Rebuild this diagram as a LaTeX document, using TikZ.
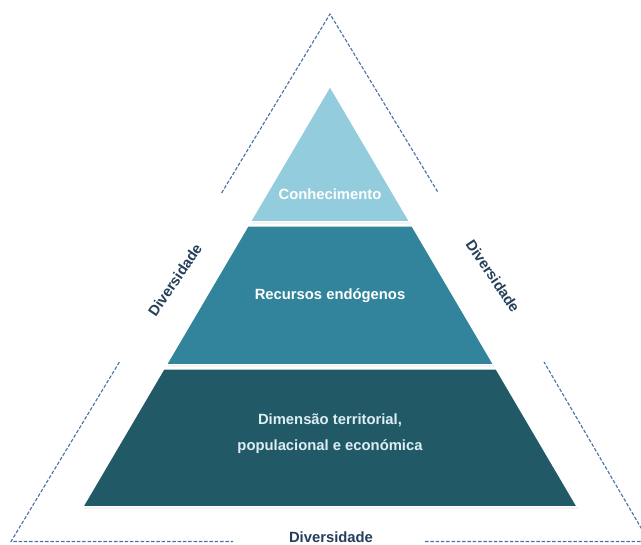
\documentclass[tikz,border=0pt]{standalone}
\usepackage{fontspec}
\setmainfont{Liberation Sans}
\usetikzlibrary{shadows}
\definecolor{tierA}{HTML}{93CDDD}
\definecolor{tierB}{HTML}{31849B}
\definecolor{tierC}{HTML}{215967}
\definecolor{dashcol}{HTML}{4A6EA8}
\definecolor{labcol}{HTML}{243F5A}
\definecolor{lighttxt}{HTML}{DCEEF3}
\tikzset{
  tier/.style={draw=white, line width=1.5pt, line join=miter,
    drop shadow={shadow xshift=1.2pt, shadow yshift=-1.5pt, fill=black!35, opacity=0.35}},
  outline/.style={draw=dashcol, line width=1.1pt, dash pattern=on 3.5pt off 1.8pt},
  tiertext/.style={font=\bfseries\fontsize{14.8}{26.5}\selectfont, text=white, align=center},
  divlabel/.style={font=\bfseries\fontsize{14.8}{17}\selectfont, text=labcol}
}
\begin{document}
\begin{tikzpicture}[x=1pt,y=-1pt]
\useasboundingbox (0,0) rectangle (641,545);
\clip (0,0) rectangle (641,545);
% outer dashed triangle
\coordinate (O) at (330,14);
\coordinate (LU) at (221.6,193);
\coordinate (RU) at (438.4,193);
\coordinate (LL) at (119.4,362);
\coordinate (RL) at (544,362);
\coordinate (BL) at (11,541.5);
\coordinate (BR) at (649,541.5);
\coordinate (GL) at (233,541.5);
\coordinate (GR) at (425,541.5);
\draw[outline] (LU) -- (O) -- (RU);
\draw[outline] (LL) -- (BL) -- (GL);
\draw[outline] (GR) -- (BR) -- (RL);
% pyramid tiers
\fill[tierC, tier] (163.6,369) -- (496.4,369) -- (577.5,507) -- (82.5,507) -- cycle;
\fill[tierB, tier] (247.7,226) -- (412.3,226) -- (494,365) -- (166,365) -- cycle;
\fill[tierA, tier] (330,86) -- (410,222) -- (250,222) -- cycle;
% texts
\node[tiertext] (t1) at (330,194) {Conhecimento};
\node[tiertext] (t2) at (330,296) {Recursos endógenos};
\node[tiertext, text=lighttxt] (t3) at (330,433.5) {Dimensão territorial,\\populacional e económica};
\node[divlabel, rotate=56] (dl) at (175,280) {Diversidade};
\node[divlabel, rotate=-56] (dr) at (493,276) {Diversidade};
\node[divlabel] (db) at (331,537.5) {Diversidade};
\end{tikzpicture}
\end{document}
